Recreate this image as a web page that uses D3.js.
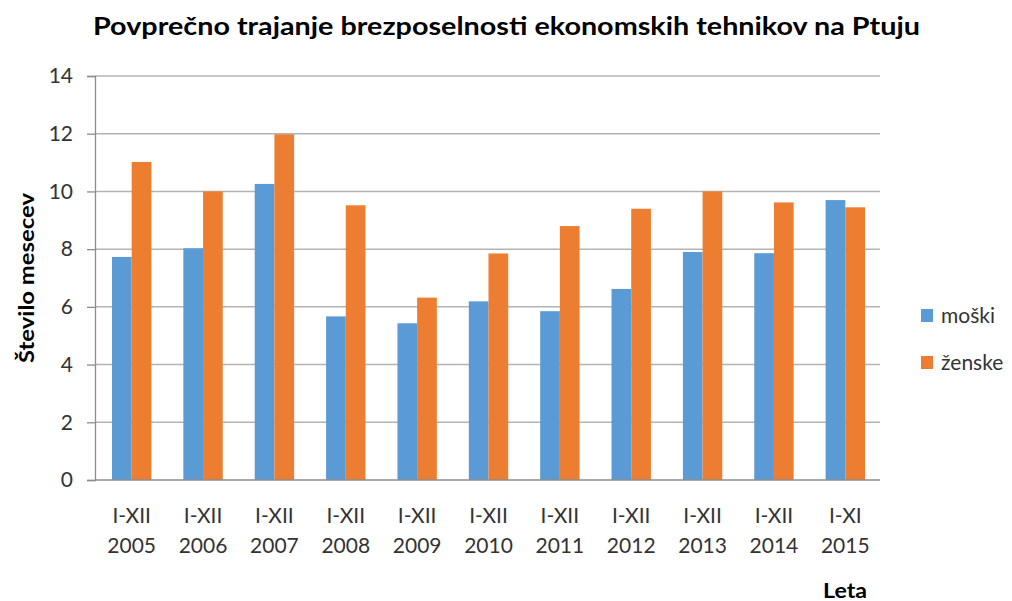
<!DOCTYPE html>
<html><head><meta charset="utf-8">
<script src="https://cdn.jsdelivr.net/npm/d3@7"></script>
<style>body{margin:0;background:#fff}svg{display:block}text{font-family:Lato,"Open Sans",sans-serif}</style>
</head><body>
<svg id="c" width="1012" height="601"></svg>
<script>
const periods = ["I-XII","I-XII","I-XII","I-XII","I-XII","I-XII","I-XII","I-XII","I-XII","I-XII","I-XI"];
const years = ["2005","2006","2007","2008","2009","2010","2011","2012","2013","2014","2015"];
const moski = [7.73,8.03,10.26,5.67,5.43,6.19,5.85,6.62,7.9,7.86,9.7];
const zenske = [11.02,10.0,11.98,9.52,6.32,7.85,8.8,9.4,10.0,9.62,9.45];
const seriesNames = ["moški","ženske"];
const colors = ["#5B9BD5","#ED7D31"];
const yTicks = [0,2,4,6,8,10,12,14];

const svg = d3.select("#c");
const L = 95, R = 880, T = 76, B = 480;
const x = d3.scaleBand().domain(years).range([L,R]).padding(0);
const y = d3.scaleLinear().domain([0,14]).range([B,T]);

// gridlines
svg.append("g").selectAll("line").data(yTicks.filter(d=>d>0)).join("line")
  .attr("x1",L).attr("x2",R).attr("y1",d=>y(d)).attr("y2",d=>y(d))
  .attr("stroke","#b3b3b3").attr("stroke-width",1.5);

// y axis
const ya = svg.append("g").attr("transform",`translate(${L},0)`)
  .call(d3.axisLeft(y).tickValues(yTicks).tickSize(8).tickPadding(14));
ya.select(".domain").attr("stroke","#8c8c8c").attr("stroke-width",1.3);
ya.selectAll(".tick line").attr("stroke","#8c8c8c").attr("stroke-width",1.3);
ya.selectAll(".tick text").attr("font-size",21).attr("fill","#333").attr("font-family","Lato");

// bars
const bw = x.bandwidth()*0.276;
const data = years.map((yr,i)=>({yr,vals:[moski[i],zenske[i]]}));
const g = svg.append("g").selectAll("g").data(data).join("g");
g.selectAll("rect").data(d=>d.vals.map((v,k)=>({yr:d.yr,v,k}))).join("rect")
  .attr("x",d=>x(d.yr)+x.bandwidth()/2 - bw + d.k*bw + 1)
  .attr("width",bw)
  .attr("y",d=>y(d.v)).attr("height",d=>B-y(d.v))
  .attr("fill",d=>colors[d.k]);

// x axis line
svg.append("line").attr("x1",L).attr("x2",R).attr("y1",B).attr("y2",B)
  .attr("stroke","#8c8c8c").attr("stroke-width",1.3);

// x labels
const xl = svg.append("g").selectAll("text").data(years.map((yr,i)=>({yr,p:periods[i]}))).join("text")
  .attr("text-anchor","middle").attr("font-size",21).attr("fill","#333")
  .attr("x",d=>x(d.yr)+x.bandwidth()/2+1);
xl.append("tspan").attr("x",d=>x(d.yr)+x.bandwidth()/2+1).attr("y",523).text(d=>d.p);
xl.append("tspan").attr("x",d=>x(d.yr)+x.bandwidth()/2+1).attr("y",553).text(d=>d.yr);

// title
svg.append("text").attr("x",93).attr("y",35).attr("text-anchor","start")
  .attr("font-size",25).attr("font-weight","bold").attr("fill","#000")
  .attr("textLength",827).attr("lengthAdjust","spacingAndGlyphs")
  .text("Povprečno trajanje brezposelnosti ekonomskih tehnikov na Ptuju");

// y title
svg.append("text").attr("transform","translate(34,278) rotate(-90)").attr("text-anchor","middle")
  .attr("font-size",21).attr("font-weight","bold").attr("fill","#000")
  .attr("textLength",170).attr("lengthAdjust","spacingAndGlyphs").text("Število mesecev");

// x title
svg.append("text").attr("x",823).attr("y",598).attr("text-anchor","start")
  .attr("font-size",21).attr("font-weight","bold").attr("fill","#000")
  .attr("textLength",44).attr("lengthAdjust","spacingAndGlyphs").text("Leta");

// legend
const lg = svg.append("g").selectAll("g").data(seriesNames).join("g")
  .attr("transform",(d,i)=>`translate(921,${309+i*47})`);
lg.append("rect").attr("width",12).attr("height",13).attr("fill",(d,i)=>colors[i]);
lg.append("text").attr("x",20).attr("y",14).attr("font-size",21).attr("fill","#333").text(d=>d);
</script>
</body></html>
